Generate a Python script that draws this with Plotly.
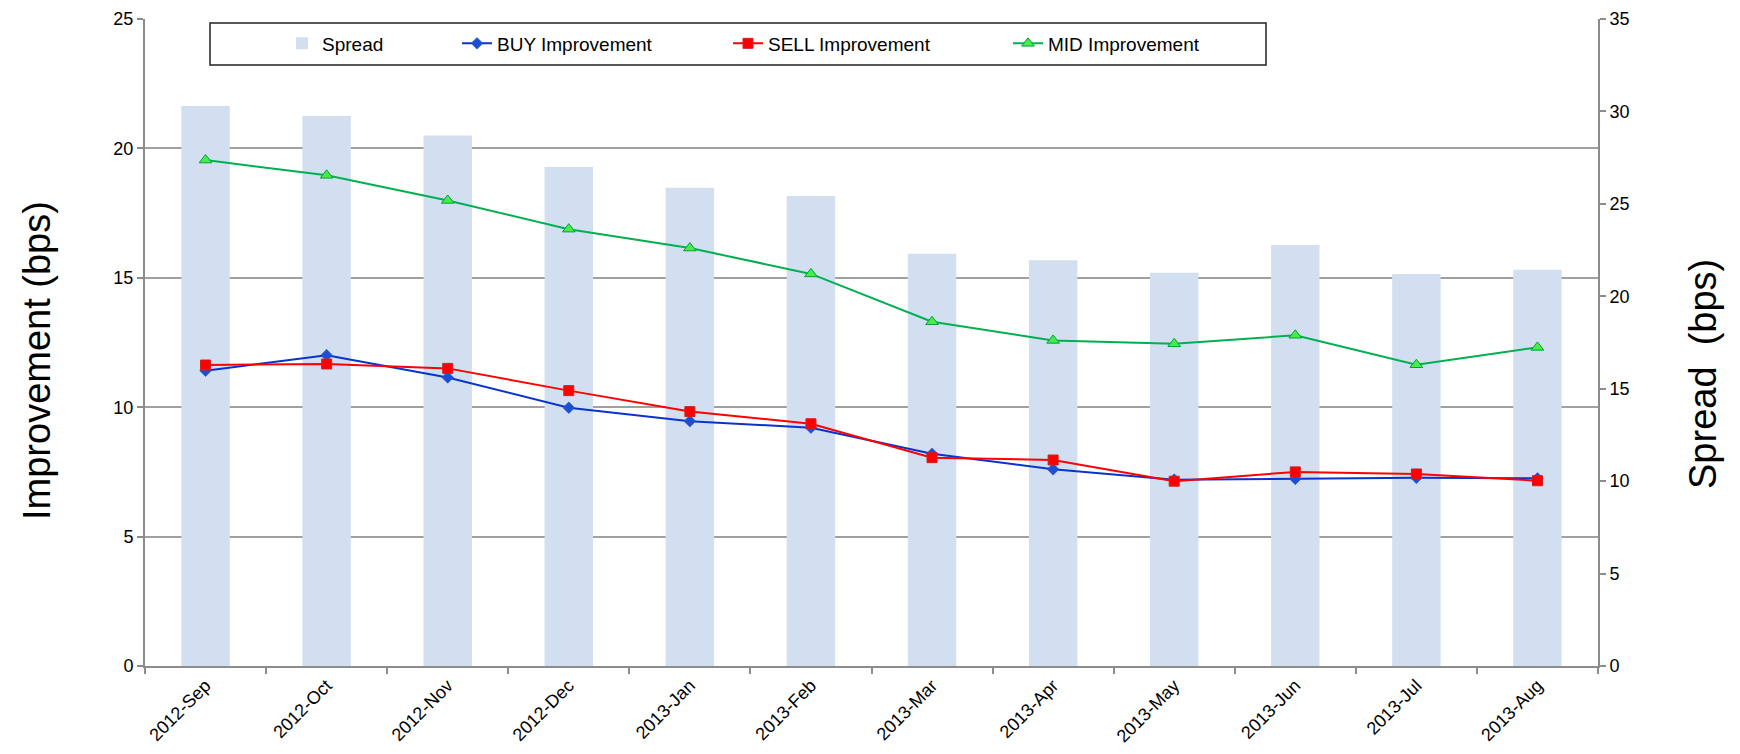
import plotly.graph_objects as go

months = ["2012-Sep", "2012-Oct", "2012-Nov", "2012-Dec", "2013-Jan", "2013-Feb",
          "2013-Mar", "2013-Apr", "2013-May", "2013-Jun", "2013-Jul", "2013-Aug"]
spread = [30.3, 29.75, 28.7, 27.0, 25.87, 25.42, 22.3, 21.95, 21.27, 22.77, 21.2, 21.43]
buy_impr = [11.41, 12.01, 11.15, 9.98, 9.46, 9.21, 8.2, 7.6, 7.2, 7.23, 7.27, 7.25]
sell_impr = [11.63, 11.67, 11.5, 10.64, 9.83, 9.36, 8.05, 7.96, 7.14, 7.5, 7.42, 7.16]
mid_impr = [19.55, 18.96, 17.99, 16.88, 16.15, 15.15, 13.3, 12.58, 12.45, 12.78, 11.64, 12.31]

FONT = "Liberation Sans, Arial, sans-serif"
AXC = "#8c8c8c"
OFF = 8  # default page body margin
W, H = 1740 - OFF, 754 - OFF
# plot area in page coordinates: x 145..1598, y 19..666
L = 145 - OFF
T = 19 - OFF
R = W - (1598 - OFF)
B = H - (666 - OFF)
PW = W - L - R
PH = H - T - B

def px_x(x):
    return (x - OFF - L) / PW

def px_y(y):
    return (H - B - (y - OFF)) / PH

fig = go.Figure()

fig.add_trace(go.Bar(
    x=months, y=spread, name="Spread", yaxis="y", width=0.4,
    marker=dict(color="#D1DFF0", line=dict(width=0)),
    legend="legend", showlegend=True,
))
fig.add_trace(go.Scatter(
    x=months, y=buy_impr, name="BUY Improvement", yaxis="y2", mode="lines+markers",
    line=dict(color="#0A32CC", width=2),
    marker=dict(symbol="diamond", size=9, color="#1E4FD0", line=dict(color="#1E4FD0", width=0.5)),
    legend="legend2", showlegend=True,
))
fig.add_trace(go.Scatter(
    x=months, y=sell_impr, name="SELL Improvement", yaxis="y2", mode="lines+markers",
    line=dict(color="#FF0000", width=2),
    marker=dict(symbol="square", size=10, color="#FF0000", line=dict(color="#D02020", width=1)),
    legend="legend3", showlegend=True,
))
fig.add_trace(go.Scatter(
    x=months, y=mid_impr, name="MID Improvement", yaxis="y2", mode="lines+markers",
    line=dict(color="#00B050", width=2),
    marker=dict(symbol="triangle-up", size=11, color="#44EE44", line=dict(color="#00A040", width=1)),
    legend="legend4", showlegend=True,
))

leg_common = dict(orientation="h", yanchor="middle", y=px_y(43.5), xanchor="left",
                  bgcolor="rgba(0,0,0,0)", borderwidth=0,
                  font=dict(family=FONT, size=19, color="#000000"))

axis_common = dict(
    automargin=False, ticks="outside", ticklen=6, tickcolor=AXC, tickwidth=1.5,
    showline=True, linecolor=AXC, linewidth=2, ticklabeloverflow="allow",
    tickfont=dict(family=FONT, size=18),
)

fig.update_layout(
    width=W, height=H,
    margin=dict(l=L, r=R, t=T, b=B, autoexpand=False),
    paper_bgcolor="white", plot_bgcolor="white",
    font=dict(family=FONT, size=18, color="#000000"),
    showlegend=True,
    bargap=0.6,
    legend=dict(x=px_x(282), **leg_common),
    legend2=dict(x=px_x(457), **leg_common),
    legend3=dict(x=px_x(728), **leg_common),
    legend4=dict(x=px_x(1008), **leg_common),
    xaxis=dict(
        type="category", range=[-0.5, len(months) - 0.5], tickangle=-45,
        tickson="boundaries", showgrid=False, **axis_common,
    ),
    yaxis=dict(
        side="right", range=[0, 35], dtick=5, showgrid=False, zeroline=False,
        **axis_common,
    ),
    yaxis2=dict(
        side="left", overlaying="y", range=[0, 25], dtick=5,
        showgrid=True, gridcolor="#A0A0A0", gridwidth=1.5, zeroline=False,
        **axis_common,
    ),
    shapes=[dict(
        type="rect", xref="paper", yref="paper",
        x0=px_x(210), x1=px_x(1266), y0=px_y(65), y1=px_y(23),
        line=dict(color="#222222", width=1.5), fillcolor="rgba(0,0,0,0)", layer="above",
    )],
    annotations=[
        dict(text="Improvement (bps)", xref="paper", yref="paper",
             x=px_x(37), y=px_y(361), xanchor="center", yanchor="middle",
             textangle=-90, showarrow=False, font=dict(family=FONT, size=38, color="#000000")),
        dict(text="Spread\u00a0 (bps)", xref="paper", yref="paper",
             x=px_x(1703), y=px_y(374), xanchor="center", yanchor="middle",
             textangle=-90, showarrow=False, font=dict(family=FONT, size=38, color="#000000")),
    ],
)

fig.write_html("out.html")
